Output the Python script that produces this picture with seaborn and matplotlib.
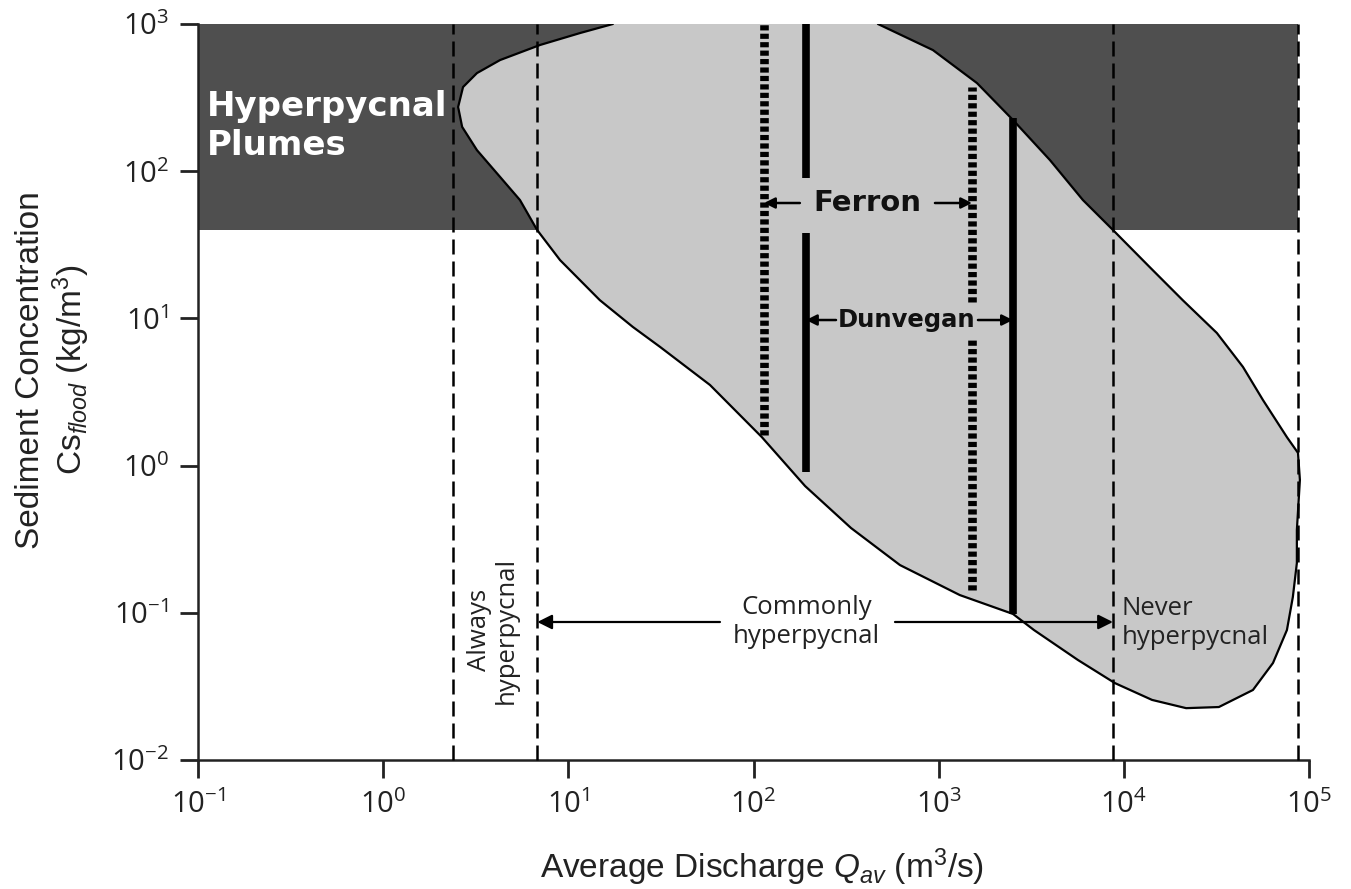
import numpy as np
import pandas as pd
import matplotlib
matplotlib.use("Agg")
import matplotlib.pyplot as plt
import seaborn as sns

# ---------------- data ----------------
x_ticks = [1e-1, 1e0, 1e1, 1e2, 1e3, 1e4, 1e5]
y_ticks = [1e-2, 1e-1, 1e0, 1e1, 1e2, 1e3]

# outline of the grey field (discharge m3/s, sediment concentration kg/m3)
blob_q = [470, 931, 1610, 2518, 3990, 6010, 8730, 13800, 20800, 31800, 44000,
          56400, 76000, 87200, 89300, 86000, 86000, 81800, 76000, 63900, 49800,
          32600, 21700, 14200, 8950, 5650, 3270, 2520, 1300, 618, 336, 190, 111,
          58.2, 31.3, 22.3, 14.8, 9.02, 6.78, 5.48, 4.28, 3.21, 2.67, 2.54, 2.70,
          3.21, 4.28, 7.03, 11.6, 17.4]
blob_cs = [1000, 665, 397, 223, 119, 63.7, 39.9, 22.3, 13.3, 7.96, 4.68,
           2.79, 1.56, 1.22, 0.80, 0.365, 0.218, 0.128, 0.0764, 0.0456, 0.0299,
           0.0229, 0.0225, 0.0256, 0.0333, 0.0478, 0.0764, 0.0982, 0.132, 0.211,
           0.377, 0.726, 1.56, 3.53, 6.40, 8.75, 13.3, 24.9, 39.9, 63.7, 91.4,
           139, 200, 273, 373, 464, 569, 720, 869, 1000]

plume_cs_min = 40.0      # lower limit of hyperpycnal plume band
plume_cs_max = 1000.0
plume_q_max = 87100.0

dashed_q = [2.38, 6.8, 8730, 87100]

# Ferron (dotted) and Dunvegan (solid) ranges: (q, cs_bottom, cs_top)
ferron_segments = [(114, 1.61, 1000), (1514, 12.9, 373), (1514, 0.143, 7.13)]
dunvegan_segments = [(192, 90, 1000), (192, 0.905, 38), (2518, 0.098, 230)]

ferron_label = ("Ferron", 410, 60.8, 178, 955)      # text, x, y, left tail, right tail
ferron_lims = (114, 1514)
dunvegan_label = ("Dunvegan", 675, 9.75, 279, 1630)
dunvegan_lims = (192, 2518)

common_y = 0.0866
common_text_q = 194
common_arrow = (65.9, 6.8, 581, 8730)   # left tail, left head, right tail, right head

# ---------------- style ----------------
sns.set_theme(style="ticks")
plt.rcParams["font.family"] = ["Liberation Sans", "DejaVu Sans"]
plt.rcParams["mathtext.fontset"] = "custom"
plt.rcParams["mathtext.rm"] = "Liberation Sans"
plt.rcParams["mathtext.it"] = "Liberation Sans:italic"
plt.rcParams["mathtext.bf"] = "Liberation Sans:bold"

fig = plt.figure(figsize=(13.51, 8.89), dpi=100)
ax = fig.add_axes([198 / 1351, 1 - 760 / 889, 1111 / 1351, 736 / 889])
ax.set_xscale("log")
ax.set_yscale("log")
ax.set_xlim(1e-1, 1e5)
ax.set_ylim(1e-2, 1e3)

# hyperpycnal band
ax.fill_between([1e-1, plume_q_max], plume_cs_min, plume_cs_max,
                color="#4f4f4f", lw=0, zorder=1)

# grey field
ax.fill(blob_q, blob_cs, color="#c8c8c8", lw=0, zorder=2)
df_blob = pd.DataFrame({"q": blob_q, "cs": blob_cs})
sns.lineplot(data=df_blob, x="q", y="cs", sort=False, estimator=None,
             color="black", lw=1.6, ax=ax, zorder=3)

# dashed verticals
for q in dashed_q:
    ax.plot([q, q], [1e-2, 1e3], color="black", lw=1.8,
            ls=(0, (6, 2.8)), zorder=4, clip_on=False)

# Ferron dotted lines
for q, b, t in ferron_segments:
    ax.plot([q, q], [b, t], color="black", lw=6.2, ls=(0, (0.6, 0.38)),
            solid_capstyle="butt", dash_capstyle="butt", zorder=5)
# Dunvegan solid lines
for q, b, t in dunvegan_segments:
    ax.plot([q, q], [b, t], color="black", lw=5.5, solid_capstyle="butt", zorder=5)

arrow_kw = dict(arrowstyle="-|>", color="black", lw=1.8, mutation_scale=16,
                shrinkA=0, shrinkB=0)

# Ferron label and arrows
name, xq, yc, lt, rt = ferron_label
ax.text(xq, yc, name, ha="center", va="center", fontsize=21,
        fontweight="bold", family="DejaVu Sans", color="#111111", zorder=6)
ax.annotate("", xy=(ferron_lims[0], yc), xytext=(lt, yc), arrowprops=arrow_kw, zorder=6)
ax.annotate("", xy=(ferron_lims[1], yc), xytext=(rt, yc), arrowprops=arrow_kw, zorder=6)

name, xq, yc, lt, rt = dunvegan_label
ax.text(xq, yc, name, ha="center", va="center", fontsize=17.5,
        fontweight="bold", family="DejaVu Sans", color="#111111", zorder=6)
ax.annotate("", xy=(dunvegan_lims[0], yc), xytext=(lt, yc), arrowprops=arrow_kw, zorder=6)
ax.annotate("", xy=(dunvegan_lims[1], yc), xytext=(rt, yc), arrowprops=arrow_kw, zorder=6)

# Commonly hyperpycnal arrow
lt, lh, rt, rh = common_arrow
big_arrow = dict(arrowstyle="-|>", color="black", lw=1.6, mutation_scale=22,
                 shrinkA=0, shrinkB=0)
ax.annotate("", xy=(lh, common_y), xytext=(lt, common_y), arrowprops=big_arrow, zorder=6)
ax.annotate("", xy=(rh, common_y), xytext=(rt, common_y), arrowprops=big_arrow, zorder=6)
ax.text(common_text_q, common_y, "Commonly\nhyperpycnal", ha="center", va="center",
        fontsize=18.5, family="Open Sans", color="#222222", linespacing=1.2, zorder=6)

ax.text(9770, 0.085, "Never\nhyperpycnal", ha="left", va="center",
        fontsize=18.5, family="Open Sans", color="#222222", linespacing=1.2, zorder=6)

ax.text(3.92, 0.076, "Always\nhyperpycnal", ha="center", va="center", rotation=90,
        fontsize=18.5, family="Open Sans", color="#222222", linespacing=1.1, zorder=6)

ax.text(0.112, 203, "Hyperpycnal\nPlumes", ha="left", va="center", fontsize=24.5,
        fontweight="bold", family="DejaVu Sans", color="white", linespacing=1.25,
        zorder=6)

# axes
sns.despine(ax=ax)
for s in ["left", "bottom"]:
    ax.spines[s].set_linewidth(1.8)
    ax.spines[s].set_color("#222222")
ax.set_xticks(x_ticks)
ax.set_yticks(y_ticks)
ax.set_xticklabels([r"$\mathregular{10^{%d}}$" % int(np.log10(v)) for v in x_ticks])
ax.set_yticklabels([r"$\mathregular{10^{%d}}$" % int(np.log10(v)) for v in y_ticks])
ax.minorticks_off()
ax.tick_params(axis="both", which="major", direction="out", length=13, width=2,
               color="#222222", labelsize=21, labelcolor="#222222")
ax.tick_params(axis="y", pad=8)
ax.tick_params(axis="x", pad=9)
for lab in ax.get_xticklabels() + ax.get_yticklabels():
    lab.set_family("Open Sans")

ax.set_xlabel(r"Average Discharge $\mathit{Q}_{\mathit{av}}$ (m$^{3}$/s)",
              fontsize=24, color="#222222")
ax.set_ylabel("Sediment Concentration\n" + r"Cs$_{\mathit{flood}}$ (kg/m$^{3}$)",
              fontsize=24, color="#222222", linespacing=1.15)
ax.xaxis.set_label_coords(0.508, -0.118)
ax.yaxis.set_label_coords(-0.095, 0.53)
ax.grid(False)

fig.savefig("out.png", dpi=100)
